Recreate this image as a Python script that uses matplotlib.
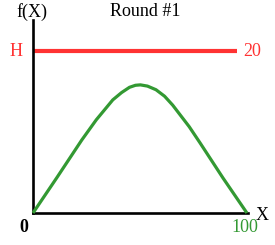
import numpy as np
import matplotlib
matplotlib.use('Agg')
import matplotlib.pyplot as plt

plt.rc('font', family='Liberation Serif', size=13)

# data
xs = [0, 11.2, 22.8, 29.6, 37.3, 41.4, 45.1, 47.9, 50.2, 53.5, 57.5, 61.5, 65.3, 73.0, 78.1, 88.8, 100]
fx = [0, 4.38, 9.0, 11.5, 13.95, 14.85, 15.5, 15.75, 15.8, 15.65, 15.2, 14.4, 13.3, 10.65, 8.64, 4.32, 0]
H = 20
h_end = 95.3
title = "Round #1"

red = '#ff3333'
green = '#339933'

fig = plt.figure(figsize=(2.75, 2.45), dpi=100, facecolor='white')
ax = fig.add_axes([33/275, 1-213/245, (248-33)/275, (213-20)/245])

ax.plot(xs, fx, color=green, lw=2.3, solid_capstyle='butt', solid_joinstyle='round',
        clip_on=False, zorder=3)
ax.plot([0, h_end], [H, H], color=red, lw=3, solid_capstyle='butt', clip_on=False)

ax.set_xlim(0, 100.5)
ax.set_ylim(0, 23.8)
ax.set_xticks([])
ax.set_yticks([])
for s in ['top', 'right']:
    ax.spines[s].set_visible(False)
for s in ['left', 'bottom']:
    ax.spines[s].set_linewidth(1.9)

# labels
def px(x, y):
    return x/275, 1-y/245

fig.text(*px(16, 51), 'H', color=red, ha='center', va='center')
fig.text(*px(243, 51), '%d' % H, color=red, ha='left', va='center')
fig.text(*px(32, 12), 'f(X)', ha='center', va='center')
fig.text(*px(145, 12), title, ha='center', va='center')
fig.text(*px(23.5, 227), '0', ha='center', va='center', fontweight='bold')
fig.text(*px(245, 228), '100', color=green, ha='center', va='center')
fig.text(*px(262, 215), 'X', ha='center', va='center')

fig.savefig('out.png', dpi=100, facecolor='white')
